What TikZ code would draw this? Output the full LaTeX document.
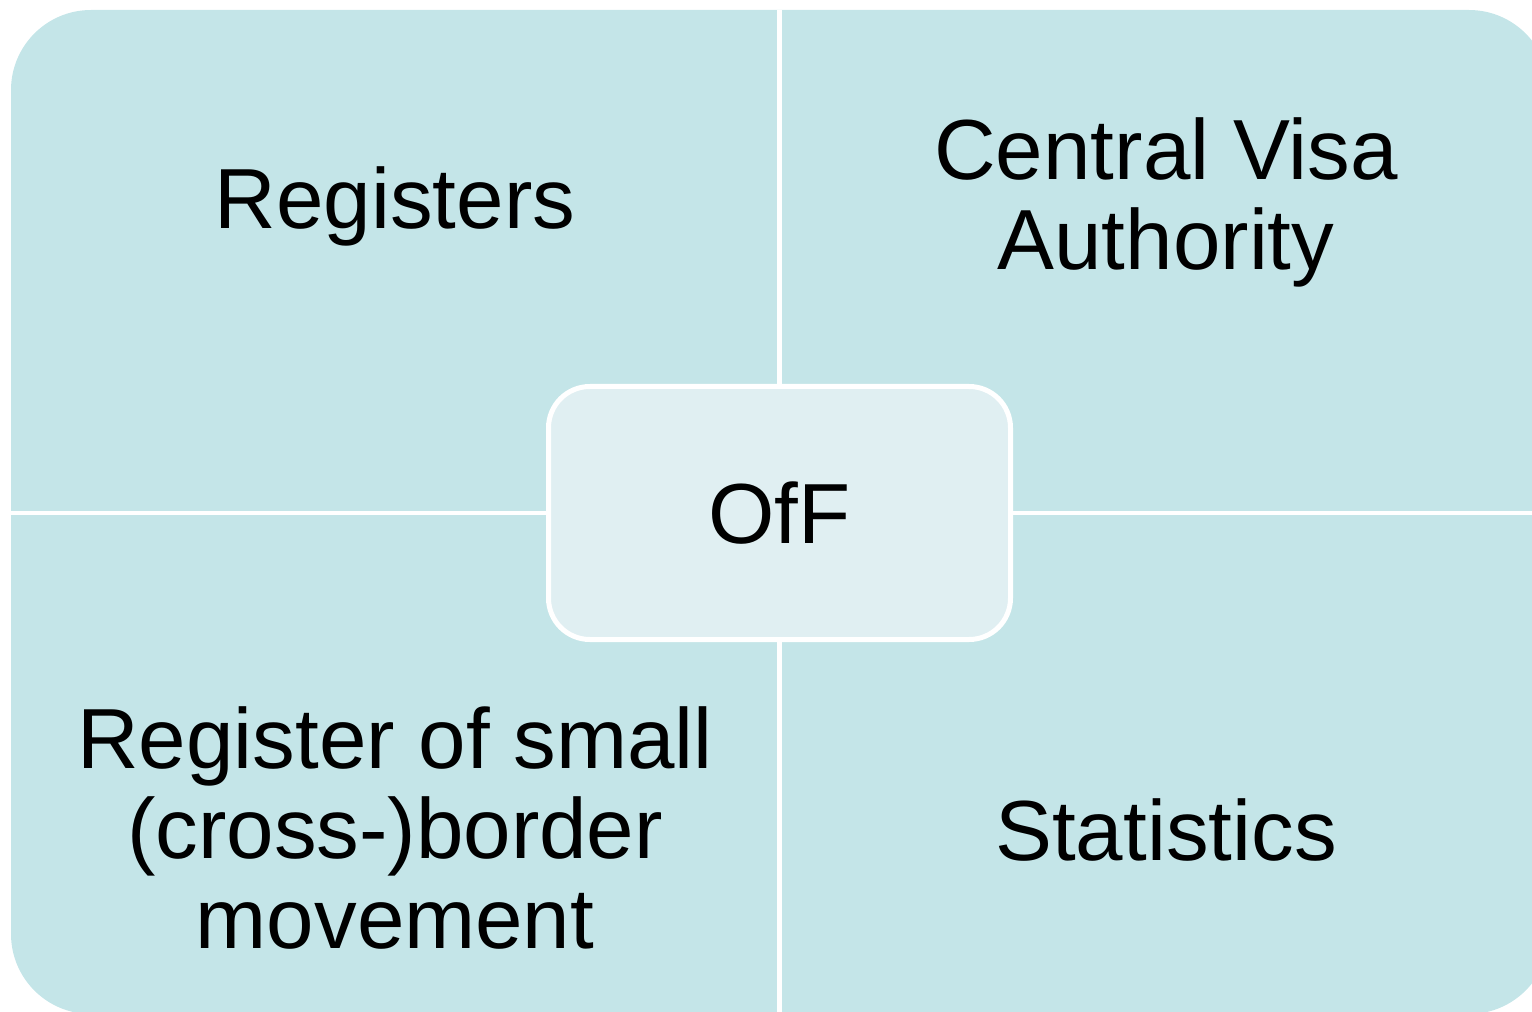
\documentclass[tikz,border=0pt]{standalone}
\usepackage{fontspec}
\setmainfont{Liberation Sans}
\definecolor{quadcol}{RGB}{196,229,232}
\definecolor{hubcol}{RGB}{224,239,242}
\tikzset{
  lbl/.style={font=\fontsize{64}{67.5}\selectfont, text=black, inner sep=0pt, align=center},
  hubbox/.style={draw=white, line width=3.75pt, fill=hubcol, rounded corners=31pt,
    minimum width=346.5pt, minimum height=189.75pt, inner sep=0pt,
    font=\fontsize{64}{67.5}\selectfont, text=black},
  gapline/.style={draw=white, line width=3.6pt},
}
\begin{document}
\begin{tikzpicture}[x=0.75pt,y=-0.75pt]
\useasboundingbox (0,0) rectangle (1532,1012);
\clip (0,0) rectangle (1532,1012);
% background quadrants
\fill[quadcol, rounded corners=60pt] (11,10) rectangle (1549,1014);
\coordinate (vtop) at (779.5,10);
\coordinate (vbot) at (779.5,1014);
\coordinate (hleft) at (11,513);
\coordinate (hright) at (1549,513);
\draw[gapline] (vtop) -- (vbot);
\draw[gapline] (hleft) -- (hright);
% labels
\node[lbl, anchor=base] (registers) at (395,229) {Registers};
\node[lbl, anchor=center] (cva) at (1166,202) {Central Visa\\Authority};
\node[lbl, anchor=center] (small) at (395,828) {Register of small\\(cross-)border\\movement};
\node[lbl, anchor=base] (stats) at (1166,860) {Statistics};
% hub
\node[hubbox] (off) at (779.5,513) {OfF};
\end{tikzpicture}
\end{document}
